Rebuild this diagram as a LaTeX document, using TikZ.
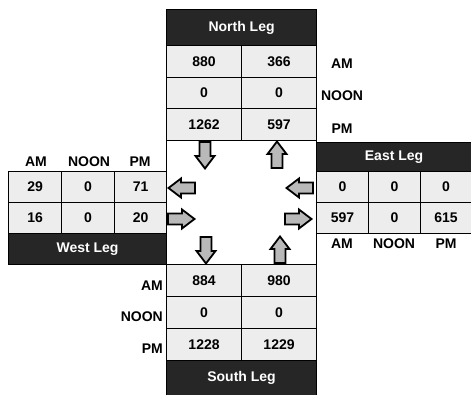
\documentclass[tikz,border=0pt]{standalone}
\usepackage{fontspec}
\setmainfont{Liberation Sans}
\newcommand\legfont{\fontsize{14}{16}\selectfont\bfseries}
\begin{document}
\begin{tikzpicture}[x=1pt,y=-1pt,
  cell/.style={draw=black, line width=1.1pt, fill=gray!14, inner sep=0pt,
    anchor=north west, font=\legfont, minimum height=31.67pt},
  hdr/.style={cell, fill=black!85, text=white},
  lab/.style={font=\legfont, inner sep=0pt},
  arr/.style={draw=black, line width=1.8pt, fill=gray!55, line join=miter},
  blockarr/.pic={\draw[arr] (-13,-5.5) -- (1,-5.5) -- (1,-9.5) -- (13.5,0)
     -- (1,9.5) -- (1,5.5) -- (-13,5.5) -- cycle;}
]
\useasboundingbox (0,0) rectangle (471,395);
% centre box
\node[draw=black, line width=1.1pt, fill=white, anchor=north west,
  minimum width=150pt, minimum height=124pt, inner sep=0pt] (C) at (166,140) {};
% North leg
\node[hdr, minimum width=150pt, minimum height=36pt] (NH) at (166,9) {North Leg};
\node[cell, minimum width=75pt] (N11) at (166,45) {880};
\node[cell, minimum width=75pt] (N12) at (241,45) {366};
\node[cell, minimum width=75pt] (N21) at (166,76.67) {0};
\node[cell, minimum width=75pt] (N22) at (241,76.67) {0};
\node[cell, minimum width=75pt] (N31) at (166,108.33) {1262};
\node[cell, minimum width=75pt] (N32) at (241,108.33) {597};
\node[lab] (NAM) at (342,64) {AM};
\node[lab] (NNO) at (342,96) {NOON};
\node[lab] (NPM) at (342,129) {PM};
% South leg
\node[cell, minimum width=75pt] (S11) at (166,264) {884};
\node[cell, minimum width=75pt] (S12) at (241,264) {980};
\node[cell, minimum width=75pt] (S21) at (166,296) {0};
\node[cell, minimum width=75pt] (S22) at (241,296) {0};
\node[cell, minimum width=75pt] (S31) at (166,328) {1228};
\node[cell, minimum width=75pt] (S32) at (241,328) {1229};
\node[hdr, minimum width=150pt, minimum height=35pt] (SH) at (166,360) {South Leg};
\node[lab, anchor=east] (SAM) at (163,286) {AM};
\node[lab, anchor=east] (SNO) at (163,317) {NOON};
\node[lab, anchor=east] (SPM) at (163,349) {PM};
% West leg
\node[lab] (WAM) at (36,162) {AM};
\node[lab] (WNO) at (89,162) {NOON};
\node[lab] (WPM) at (140,162) {PM};
\node[cell, minimum width=53pt, minimum height=31pt] (W11) at (8,171) {29};
\node[cell, minimum width=53pt, minimum height=31pt] (W12) at (61,171) {0};
\node[cell, minimum width=52pt, minimum height=31pt] (W13) at (114,171) {71};
\node[cell, minimum width=53pt, minimum height=31pt] (W21) at (8,202) {16};
\node[cell, minimum width=53pt, minimum height=31pt] (W22) at (61,202) {0};
\node[cell, minimum width=52pt, minimum height=31pt] (W23) at (114,202) {20};
\node[hdr, minimum width=158pt, minimum height=31pt] (WH) at (8,233) {West Leg};
% East leg
\node[hdr, minimum width=155pt, minimum height=29pt] (EH) at (316,142) {East Leg};
\node[cell, minimum width=52pt, minimum height=31pt] (E11) at (316,171) {0};
\node[cell, minimum width=52pt, minimum height=31pt] (E12) at (368,171) {0};
\node[cell, minimum width=51pt, minimum height=31pt] (E13) at (420,171) {0};
\node[cell, minimum width=52pt, minimum height=31pt] (E21) at (316,202) {597};
\node[cell, minimum width=52pt, minimum height=31pt] (E22) at (368,202) {0};
\node[cell, minimum width=51pt, minimum height=31pt] (E23) at (420,202) {615};
\node[lab] (EAM) at (342,244) {AM};
\node[lab] (ENO) at (394,244) {NOON};
\node[lab] (EPM) at (446,244) {PM};
% movement arrows
\pic[rotate=-90] at (205,155) {blockarr};
\pic[rotate=90]  at (277,155) {blockarr};
\pic[rotate=180] at (182,188) {blockarr};
\pic[rotate=180] at (300,188) {blockarr};
\pic at (181,219) {blockarr};
\pic at (298,219) {blockarr};
\pic[rotate=-90] at (206,250) {blockarr};
\pic[rotate=90]  at (280,250) {blockarr};
\end{tikzpicture}
\end{document}
